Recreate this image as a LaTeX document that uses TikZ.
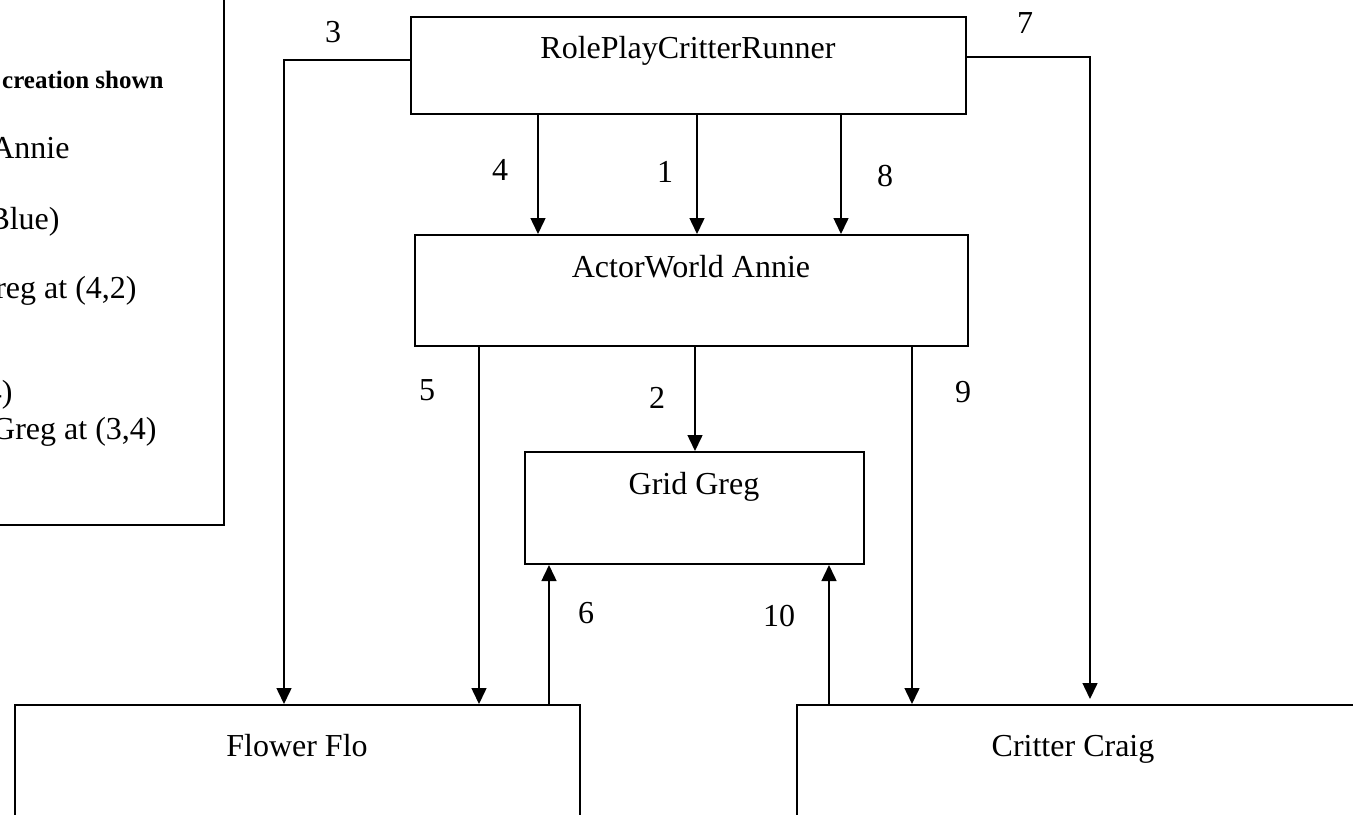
\documentclass[tikz,border=0pt]{standalone}
\usepackage{fontspec}
\setmainfont{Liberation Serif}
\usetikzlibrary{arrows.meta,calc}
\begin{document}
\begin{tikzpicture}[x=0.5pt,y=-0.5pt,
  box/.style={draw,line width=1pt,rectangle,inner sep=0pt,fill=white},
  txt/.style={inner sep=0pt,anchor=base,font=\fontsize{16}{19}\selectfont},
  leg/.style={inner sep=0pt,anchor=base east,font=\fontsize{16}{19}\selectfont},
  num/.style={inner sep=0pt,font=\fontsize{16}{19}\selectfont},
  arr/.style={line width=0.75pt,-{Triangle[length=8pt,width=7.5pt]}},
  wire/.style={line width=0.75pt}]
\useasboundingbox (0,0) rectangle (1353,814);
\clip (0,0) rectangle (1353,814);
\fill[white] (0,0) rectangle (1353,814);
% legend box (partially outside the picture)
\node[box,minimum width=137pt,minimum height=287.5pt] (legend) at (87,237.5) {};
\node[leg,font=\bfseries\fontsize{12.5}{15}\selectfont] (l1) at (164,88) {creation shown};
\node[leg] (l2) at (70,158) {Annie};
\node[leg] (l3) at (60,229) {Blue)};
\node[leg] (l4) at (137,298) {reg at (4,2)};
\node[leg] (l5) at (13,402) {4)};
\node[leg] (l6) at (157,439) {Greg at (3,4)};
% boxes
\node[box,minimum width=277.5pt,minimum height=48.5pt] (run) at (688.5,65.5) {};
\node[txt] (runt) at (688,58) {RolePlayCritterRunner};
\node[box,minimum width=276.5pt,minimum height=55.5pt] (world) at (691.5,290.5) {};
\node[txt] (worldt) at (691,277) {ActorWorld Annie};
\node[box,minimum width=169.5pt,minimum height=56pt] (grid) at (694.5,508) {};
\node[txt] (gridt) at (694,494) {Grid Greg};
\node[box,minimum width=282.5pt,minimum height=77.5pt] (flower) at (297.5,782.5) {};
\node[txt] (flowert) at (297,756) {Flower Flo};
\node[box,minimum width=301.5pt,minimum height=77.5pt] (critter) at (1098.5,782.5) {};
\node[txt] (crittert) at (1073,756) {Critter Craig};
% x positions of vertical connectors
\coordinate (x4) at (538,0);
\coordinate (x1) at (697,0);
\coordinate (x8) at (841,0);
\coordinate (x5) at (479,0);
\coordinate (x2) at (695,0);
\coordinate (x9) at (912,0);
\coordinate (x6) at (549,0);
\coordinate (x10) at (829,0);
\coordinate (x3) at (284,60);
\coordinate (x7) at (1090,57);
\coordinate (e7) at (1090,699);
% connectors
\draw[arr] (x3 -| run.west) -- (x3) -- (x3 |- flower.north);
\draw[arr] (x7 -| run.east) -- (x7) -- (e7);
\draw[arr] (x4 |- run.south) -- (x4 |- world.north);
\draw[arr] (x1 |- run.south) -- (x1 |- world.north);
\draw[arr] (x8 |- run.south) -- (x8 |- world.north);
\draw[arr] (x5 |- world.south) -- (x5 |- flower.north);
\draw[arr] (x2 |- world.south) -- (x2 |- grid.north);
\draw[arr] (x9 |- world.south) -- (x9 |- critter.north);
\draw[arr] (x6 |- flower.north) -- (x6 |- grid.south);
\draw[arr] (x10 |- critter.north) -- (x10 |- grid.south);
% numbers
\node[num] (n3) at (333,32) {3};
\node[num] (n7) at (1025,23) {7};
\node[num] (n4) at (500,170) {4};
\node[num] (n1) at (665,172) {1};
\node[num] (n8) at (885,176) {8};
\node[num] (n5) at (427,390) {5};
\node[num] (n2) at (657,398) {2};
\node[num] (n9) at (963,392) {9};
\node[num] (n6) at (586,613) {6};
\node[num] (n10) at (779,616) {10};
\end{tikzpicture}
\end{document}
